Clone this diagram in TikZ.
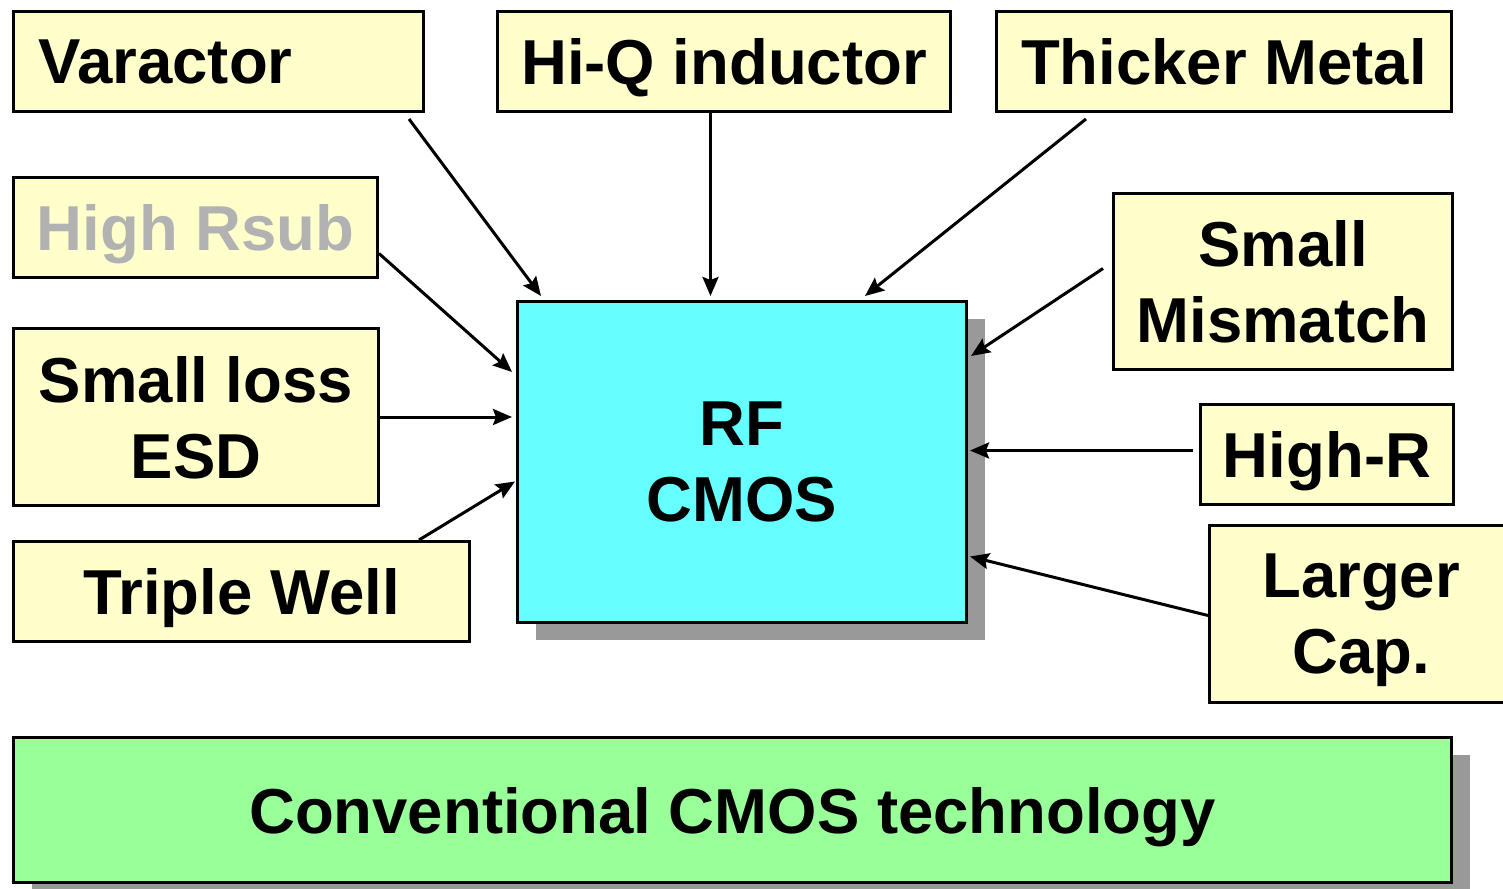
\documentclass[tikz,border=0pt]{standalone}
\usepackage{fontspec}
\setmainfont{Liberation Sans}
\usetikzlibrary{arrows.meta, shadows}
\definecolor{tagyellow}{HTML}{FFFFCC}
\definecolor{rfcyan}{HTML}{66FFFF}
\definecolor{groundgreen}{HTML}{99FF99}
\definecolor{shadowgrey}{HTML}{999999}
\definecolor{fadedtext}{HTML}{B2B2B2}
\tikzset{
  tag/.style={rectangle, draw, fill=tagyellow, line width=3pt, align=center,
    font=\fontsize{63.5}{76}\selectfont\bfseries, inner sep=0pt, text depth=0pt,
    anchor=north west},
  core/.style={tag, fill=rfcyan,
    drop shadow={shadow xshift=18pt, shadow yshift=-17pt, fill=shadowgrey, opacity=1}},
  ground/.style={core, fill=groundgreen},
  line/.style={-{Stealth[length=19pt, width=16pt, inset=3pt]}, line width=3pt}
}

\begin{document}
\begin{tikzpicture}[x=1pt, y=-1pt]
\useasboundingbox (0,0) rectangle (1503,888);

% ---- process options (left column and top row) ----
\node[tag, minimum height=100pt, text width=360pt, align=left, inner xsep=25pt] (varactor) at (12,10) {Varactor};
\node[tag, minimum width=453pt, minimum height=100pt] (hiq) at (496,10) {Hi-Q inductor};
\node[tag, minimum width=455pt, minimum height=100pt] (thicker) at (995,10) {Thicker Metal};
\node[tag, minimum width=364pt, minimum height=100pt, text=fadedtext] (rsub) at (12,176) {High Rsub};
\node[tag, minimum width=365pt, minimum height=177pt] (esd) at (12,327) {Small loss\\ESD};
\node[tag, minimum width=456pt, minimum height=100pt] (well) at (12,540) {Triple Well};

% ---- right column ----
\node[tag, minimum width=339pt, minimum height=176pt] (mismatch) at (1112,192) {Small\\Mismatch};
\node[tag, minimum width=253pt, minimum height=100pt] (highr) at (1199,403) {High-R};
\node[tag, minimum width=303pt, minimum height=177pt] (cap) at (1208,524) {Larger\\Cap.};

% ---- rf cmos and base process ----
\node[core, minimum width=449pt, minimum height=321pt] (rf) at (516,300) {RF\\CMOS};
\node[ground, minimum width=1438pt, minimum height=145pt] (conv) at (12,736) {Conventional CMOS technology};

% ---- arrows into rf ----
\draw[line] ([xshift=-16pt, yshift=-6pt]varactor.south east) -- ([xshift=25pt, yshift=4pt]rf.north west);
\draw[line] ([xshift=-13.5pt]hiq.south) -- ([xshift=-31.5pt, yshift=4pt]rf.north);
\draw[line] ([xshift=91pt, yshift=-6pt]thicker.south west) -- ([xshift=-103pt, yshift=4pt]rf.north east);
\draw[line] ([yshift=-26pt]rsub.east) -- ([xshift=-4pt, yshift=-72pt]rf.north west);
\draw[line] (esd.east) -- ([xshift=-4pt, yshift=45pt]rf.west);
\draw[line] ([xshift=-52pt]well.north east) -- ([xshift=-1pt, yshift=-19.5pt]rf.west);
\draw[line] ([xshift=-9pt, yshift=13pt]mismatch.west) -- ([xshift=3pt, yshift=-56pt]rf.north east);
\draw[line] ([xshift=-6pt, yshift=4pt]highr.west) -- ([xshift=2pt, yshift=11.5pt]rf.east);
\draw[line] ([yshift=-1.5pt]cap.west) -- ([xshift=2pt, yshift=-94.5pt]rf.east);

\end{tikzpicture}
\end{document}
